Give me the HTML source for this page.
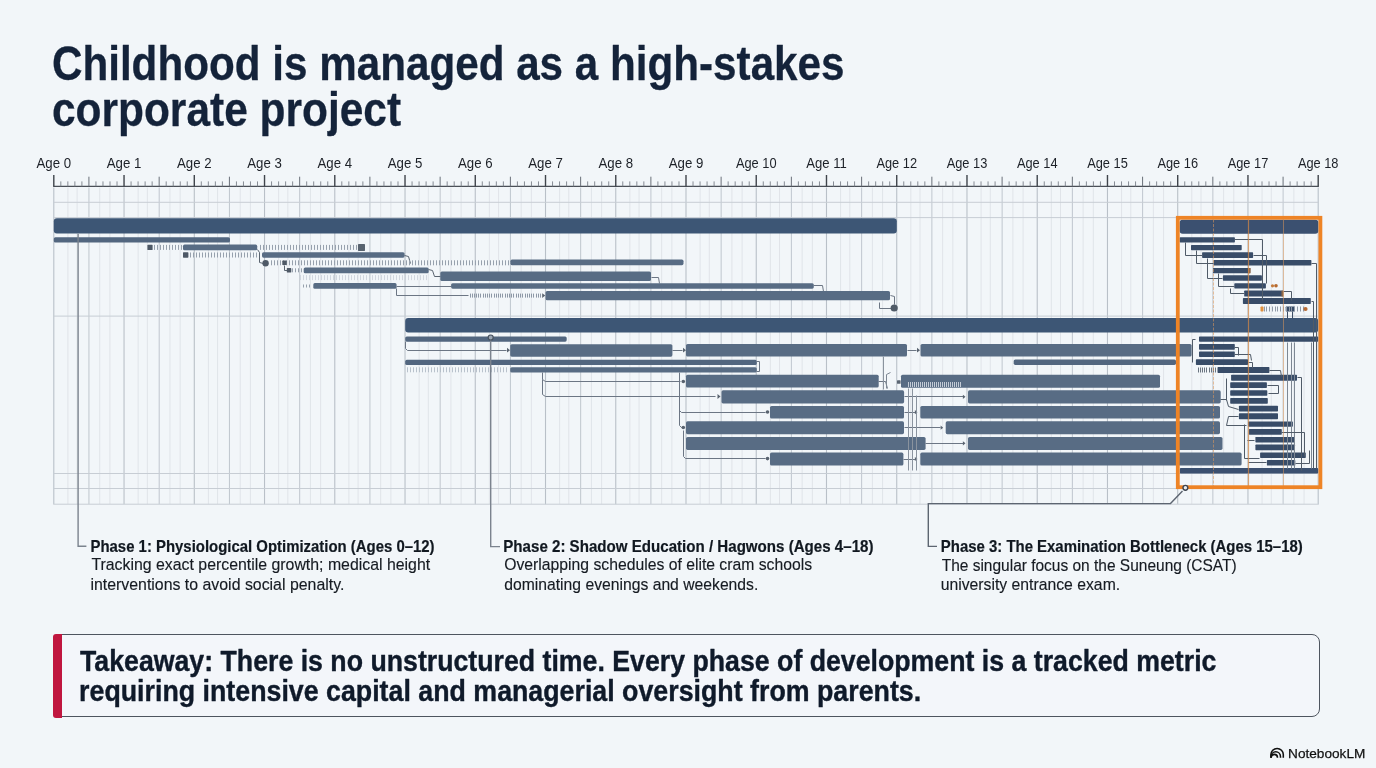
<!DOCTYPE html>
<html><head><meta charset="utf-8"><title>Childhood is managed as a high-stakes corporate project</title>
<style>
html,body{margin:0;padding:0}
body{width:1376px;height:768px;overflow:hidden;background:#f2f6f9;position:relative;font-family:"Liberation Sans",Arial,sans-serif}
svg{position:absolute;left:0;top:0}
.box{position:absolute;left:53.4px;top:634px;width:1264.6px;height:81.2px;border:1.5px solid #4e555f;border-radius:8px;background:#f3f6fa;box-sizing:content-box}
.red{position:absolute;left:53.2px;top:634px;width:8.8px;height:84.2px;background:#c0163f;border-radius:3px 0 0 3px}
</style></head><body>
<div class="box"></div>
<div class="red"></div>
<svg width="1376" height="768" viewBox="0 0 1376 768" style="will-change:transform">
<line x1="53.80" y1="187.5" x2="53.80" y2="504.2" stroke="#b9c0c8" stroke-width="1.1"/>
<line x1="67.90" y1="187.5" x2="67.90" y2="504.2" stroke="#e0e4e9" stroke-width="1.0"/>
<line x1="77.10" y1="187.5" x2="77.10" y2="504.2" stroke="#e0e4e9" stroke-width="1.0"/>
<line x1="88.95" y1="187.5" x2="88.95" y2="504.2" stroke="#bfc6ce" stroke-width="1.0"/>
<line x1="99.70" y1="187.5" x2="99.70" y2="504.2" stroke="#e0e4e9" stroke-width="1.0"/>
<line x1="109.90" y1="187.5" x2="109.90" y2="504.2" stroke="#e0e4e9" stroke-width="1.0"/>
<line x1="124.04" y1="187.5" x2="124.04" y2="504.2" stroke="#b9c0c8" stroke-width="1.1"/>
<line x1="138.14" y1="187.5" x2="138.14" y2="504.2" stroke="#e0e4e9" stroke-width="1.0"/>
<line x1="147.34" y1="187.5" x2="147.34" y2="504.2" stroke="#e0e4e9" stroke-width="1.0"/>
<line x1="159.19" y1="187.5" x2="159.19" y2="504.2" stroke="#bfc6ce" stroke-width="1.0"/>
<line x1="169.94" y1="187.5" x2="169.94" y2="504.2" stroke="#e0e4e9" stroke-width="1.0"/>
<line x1="180.14" y1="187.5" x2="180.14" y2="504.2" stroke="#e0e4e9" stroke-width="1.0"/>
<line x1="194.29" y1="187.5" x2="194.29" y2="504.2" stroke="#b9c0c8" stroke-width="1.1"/>
<line x1="208.39" y1="187.5" x2="208.39" y2="504.2" stroke="#e0e4e9" stroke-width="1.0"/>
<line x1="217.59" y1="187.5" x2="217.59" y2="504.2" stroke="#e0e4e9" stroke-width="1.0"/>
<line x1="229.44" y1="187.5" x2="229.44" y2="504.2" stroke="#bfc6ce" stroke-width="1.0"/>
<line x1="240.19" y1="187.5" x2="240.19" y2="504.2" stroke="#e0e4e9" stroke-width="1.0"/>
<line x1="250.39" y1="187.5" x2="250.39" y2="504.2" stroke="#e0e4e9" stroke-width="1.0"/>
<line x1="264.53" y1="187.5" x2="264.53" y2="504.2" stroke="#b9c0c8" stroke-width="1.1"/>
<line x1="278.63" y1="187.5" x2="278.63" y2="504.2" stroke="#e0e4e9" stroke-width="1.0"/>
<line x1="287.83" y1="187.5" x2="287.83" y2="504.2" stroke="#e0e4e9" stroke-width="1.0"/>
<line x1="299.68" y1="187.5" x2="299.68" y2="504.2" stroke="#bfc6ce" stroke-width="1.0"/>
<line x1="310.43" y1="187.5" x2="310.43" y2="504.2" stroke="#e0e4e9" stroke-width="1.0"/>
<line x1="320.63" y1="187.5" x2="320.63" y2="504.2" stroke="#e0e4e9" stroke-width="1.0"/>
<line x1="334.78" y1="187.5" x2="334.78" y2="504.2" stroke="#b9c0c8" stroke-width="1.1"/>
<line x1="348.88" y1="187.5" x2="348.88" y2="504.2" stroke="#e0e4e9" stroke-width="1.0"/>
<line x1="358.08" y1="187.5" x2="358.08" y2="504.2" stroke="#e0e4e9" stroke-width="1.0"/>
<line x1="369.93" y1="187.5" x2="369.93" y2="504.2" stroke="#bfc6ce" stroke-width="1.0"/>
<line x1="380.68" y1="187.5" x2="380.68" y2="504.2" stroke="#e0e4e9" stroke-width="1.0"/>
<line x1="390.88" y1="187.5" x2="390.88" y2="504.2" stroke="#e0e4e9" stroke-width="1.0"/>
<line x1="405.02" y1="187.5" x2="405.02" y2="504.2" stroke="#b9c0c8" stroke-width="1.1"/>
<line x1="419.12" y1="187.5" x2="419.12" y2="504.2" stroke="#e0e4e9" stroke-width="1.0"/>
<line x1="428.32" y1="187.5" x2="428.32" y2="504.2" stroke="#e0e4e9" stroke-width="1.0"/>
<line x1="440.17" y1="187.5" x2="440.17" y2="504.2" stroke="#bfc6ce" stroke-width="1.0"/>
<line x1="450.92" y1="187.5" x2="450.92" y2="504.2" stroke="#e0e4e9" stroke-width="1.0"/>
<line x1="461.12" y1="187.5" x2="461.12" y2="504.2" stroke="#e0e4e9" stroke-width="1.0"/>
<line x1="475.27" y1="187.5" x2="475.27" y2="504.2" stroke="#b9c0c8" stroke-width="1.1"/>
<line x1="489.37" y1="187.5" x2="489.37" y2="504.2" stroke="#e0e4e9" stroke-width="1.0"/>
<line x1="498.57" y1="187.5" x2="498.57" y2="504.2" stroke="#e0e4e9" stroke-width="1.0"/>
<line x1="510.42" y1="187.5" x2="510.42" y2="504.2" stroke="#bfc6ce" stroke-width="1.0"/>
<line x1="521.17" y1="187.5" x2="521.17" y2="504.2" stroke="#e0e4e9" stroke-width="1.0"/>
<line x1="531.37" y1="187.5" x2="531.37" y2="504.2" stroke="#e0e4e9" stroke-width="1.0"/>
<line x1="545.51" y1="187.5" x2="545.51" y2="504.2" stroke="#b9c0c8" stroke-width="1.1"/>
<line x1="559.61" y1="187.5" x2="559.61" y2="504.2" stroke="#e0e4e9" stroke-width="1.0"/>
<line x1="568.81" y1="187.5" x2="568.81" y2="504.2" stroke="#e0e4e9" stroke-width="1.0"/>
<line x1="580.66" y1="187.5" x2="580.66" y2="504.2" stroke="#bfc6ce" stroke-width="1.0"/>
<line x1="591.41" y1="187.5" x2="591.41" y2="504.2" stroke="#e0e4e9" stroke-width="1.0"/>
<line x1="601.61" y1="187.5" x2="601.61" y2="504.2" stroke="#e0e4e9" stroke-width="1.0"/>
<line x1="615.76" y1="187.5" x2="615.76" y2="504.2" stroke="#b9c0c8" stroke-width="1.1"/>
<line x1="629.86" y1="187.5" x2="629.86" y2="504.2" stroke="#e0e4e9" stroke-width="1.0"/>
<line x1="639.06" y1="187.5" x2="639.06" y2="504.2" stroke="#e0e4e9" stroke-width="1.0"/>
<line x1="650.91" y1="187.5" x2="650.91" y2="504.2" stroke="#bfc6ce" stroke-width="1.0"/>
<line x1="661.66" y1="187.5" x2="661.66" y2="504.2" stroke="#e0e4e9" stroke-width="1.0"/>
<line x1="671.86" y1="187.5" x2="671.86" y2="504.2" stroke="#e0e4e9" stroke-width="1.0"/>
<line x1="686.00" y1="187.5" x2="686.00" y2="504.2" stroke="#b9c0c8" stroke-width="1.1"/>
<line x1="700.10" y1="187.5" x2="700.10" y2="504.2" stroke="#e0e4e9" stroke-width="1.0"/>
<line x1="709.30" y1="187.5" x2="709.30" y2="504.2" stroke="#e0e4e9" stroke-width="1.0"/>
<line x1="721.15" y1="187.5" x2="721.15" y2="504.2" stroke="#bfc6ce" stroke-width="1.0"/>
<line x1="731.90" y1="187.5" x2="731.90" y2="504.2" stroke="#e0e4e9" stroke-width="1.0"/>
<line x1="742.10" y1="187.5" x2="742.10" y2="504.2" stroke="#e0e4e9" stroke-width="1.0"/>
<line x1="756.24" y1="187.5" x2="756.24" y2="504.2" stroke="#b9c0c8" stroke-width="1.1"/>
<line x1="770.34" y1="187.5" x2="770.34" y2="504.2" stroke="#e0e4e9" stroke-width="1.0"/>
<line x1="779.54" y1="187.5" x2="779.54" y2="504.2" stroke="#e0e4e9" stroke-width="1.0"/>
<line x1="791.39" y1="187.5" x2="791.39" y2="504.2" stroke="#bfc6ce" stroke-width="1.0"/>
<line x1="802.14" y1="187.5" x2="802.14" y2="504.2" stroke="#e0e4e9" stroke-width="1.0"/>
<line x1="812.34" y1="187.5" x2="812.34" y2="504.2" stroke="#e0e4e9" stroke-width="1.0"/>
<line x1="826.49" y1="187.5" x2="826.49" y2="504.2" stroke="#b9c0c8" stroke-width="1.1"/>
<line x1="840.59" y1="187.5" x2="840.59" y2="504.2" stroke="#e0e4e9" stroke-width="1.0"/>
<line x1="849.79" y1="187.5" x2="849.79" y2="504.2" stroke="#e0e4e9" stroke-width="1.0"/>
<line x1="861.64" y1="187.5" x2="861.64" y2="504.2" stroke="#bfc6ce" stroke-width="1.0"/>
<line x1="872.39" y1="187.5" x2="872.39" y2="504.2" stroke="#e0e4e9" stroke-width="1.0"/>
<line x1="882.59" y1="187.5" x2="882.59" y2="504.2" stroke="#e0e4e9" stroke-width="1.0"/>
<line x1="896.73" y1="187.5" x2="896.73" y2="504.2" stroke="#b9c0c8" stroke-width="1.1"/>
<line x1="910.83" y1="187.5" x2="910.83" y2="504.2" stroke="#e0e4e9" stroke-width="1.0"/>
<line x1="920.03" y1="187.5" x2="920.03" y2="504.2" stroke="#e0e4e9" stroke-width="1.0"/>
<line x1="931.88" y1="187.5" x2="931.88" y2="504.2" stroke="#bfc6ce" stroke-width="1.0"/>
<line x1="942.63" y1="187.5" x2="942.63" y2="504.2" stroke="#e0e4e9" stroke-width="1.0"/>
<line x1="952.83" y1="187.5" x2="952.83" y2="504.2" stroke="#e0e4e9" stroke-width="1.0"/>
<line x1="966.98" y1="187.5" x2="966.98" y2="504.2" stroke="#b9c0c8" stroke-width="1.1"/>
<line x1="981.08" y1="187.5" x2="981.08" y2="504.2" stroke="#e0e4e9" stroke-width="1.0"/>
<line x1="990.28" y1="187.5" x2="990.28" y2="504.2" stroke="#e0e4e9" stroke-width="1.0"/>
<line x1="1002.13" y1="187.5" x2="1002.13" y2="504.2" stroke="#bfc6ce" stroke-width="1.0"/>
<line x1="1012.88" y1="187.5" x2="1012.88" y2="504.2" stroke="#e0e4e9" stroke-width="1.0"/>
<line x1="1023.08" y1="187.5" x2="1023.08" y2="504.2" stroke="#e0e4e9" stroke-width="1.0"/>
<line x1="1037.22" y1="187.5" x2="1037.22" y2="504.2" stroke="#b9c0c8" stroke-width="1.1"/>
<line x1="1051.32" y1="187.5" x2="1051.32" y2="504.2" stroke="#e0e4e9" stroke-width="1.0"/>
<line x1="1060.52" y1="187.5" x2="1060.52" y2="504.2" stroke="#e0e4e9" stroke-width="1.0"/>
<line x1="1072.37" y1="187.5" x2="1072.37" y2="504.2" stroke="#bfc6ce" stroke-width="1.0"/>
<line x1="1083.12" y1="187.5" x2="1083.12" y2="504.2" stroke="#e0e4e9" stroke-width="1.0"/>
<line x1="1093.32" y1="187.5" x2="1093.32" y2="504.2" stroke="#e0e4e9" stroke-width="1.0"/>
<line x1="1107.47" y1="187.5" x2="1107.47" y2="504.2" stroke="#b9c0c8" stroke-width="1.1"/>
<line x1="1121.57" y1="187.5" x2="1121.57" y2="504.2" stroke="#e0e4e9" stroke-width="1.0"/>
<line x1="1130.77" y1="187.5" x2="1130.77" y2="504.2" stroke="#e0e4e9" stroke-width="1.0"/>
<line x1="1142.62" y1="187.5" x2="1142.62" y2="504.2" stroke="#bfc6ce" stroke-width="1.0"/>
<line x1="1153.37" y1="187.5" x2="1153.37" y2="504.2" stroke="#e0e4e9" stroke-width="1.0"/>
<line x1="1163.57" y1="187.5" x2="1163.57" y2="504.2" stroke="#e0e4e9" stroke-width="1.0"/>
<line x1="1177.71" y1="187.5" x2="1177.71" y2="504.2" stroke="#b9c0c8" stroke-width="1.1"/>
<line x1="1191.81" y1="187.5" x2="1191.81" y2="504.2" stroke="#e0e4e9" stroke-width="1.0"/>
<line x1="1201.01" y1="187.5" x2="1201.01" y2="504.2" stroke="#e0e4e9" stroke-width="1.0"/>
<line x1="1212.86" y1="187.5" x2="1212.86" y2="504.2" stroke="#bfc6ce" stroke-width="1.0"/>
<line x1="1223.61" y1="187.5" x2="1223.61" y2="504.2" stroke="#e0e4e9" stroke-width="1.0"/>
<line x1="1233.81" y1="187.5" x2="1233.81" y2="504.2" stroke="#e0e4e9" stroke-width="1.0"/>
<line x1="1247.96" y1="187.5" x2="1247.96" y2="504.2" stroke="#b9c0c8" stroke-width="1.1"/>
<line x1="1262.06" y1="187.5" x2="1262.06" y2="504.2" stroke="#e0e4e9" stroke-width="1.0"/>
<line x1="1271.26" y1="187.5" x2="1271.26" y2="504.2" stroke="#e0e4e9" stroke-width="1.0"/>
<line x1="1283.11" y1="187.5" x2="1283.11" y2="504.2" stroke="#bfc6ce" stroke-width="1.0"/>
<line x1="1293.86" y1="187.5" x2="1293.86" y2="504.2" stroke="#e0e4e9" stroke-width="1.0"/>
<line x1="1304.06" y1="187.5" x2="1304.06" y2="504.2" stroke="#e0e4e9" stroke-width="1.0"/>
<line x1="1318.20" y1="187.5" x2="1318.20" y2="504.2" stroke="#b9c0c8" stroke-width="1.1"/>
<line x1="53.30" y1="202.3" x2="1318.70" y2="202.3" stroke="#c7cdd4" stroke-width="1"/>
<line x1="53.30" y1="217.6" x2="1318.70" y2="217.6" stroke="#c7cdd4" stroke-width="1"/>
<line x1="53.30" y1="316.1" x2="1318.70" y2="316.1" stroke="#c7cdd4" stroke-width="1"/>
<line x1="53.30" y1="473.5" x2="1318.70" y2="473.5" stroke="#c7cdd4" stroke-width="1"/>
<line x1="53.30" y1="488.5" x2="1318.70" y2="488.5" stroke="#c7cdd4" stroke-width="1"/>
<line x1="53.30" y1="504.2" x2="1318.70" y2="504.2" stroke="#c7cdd4" stroke-width="1"/>
<line x1="53.20" y1="186.4" x2="1318.80" y2="186.4" stroke="#4a4f57" stroke-width="1.4"/>
<line x1="53.80" y1="175" x2="53.80" y2="186.4" stroke="#3f444b" stroke-width="1.4"/>
<line x1="60.82" y1="181.4" x2="60.82" y2="186.4" stroke="#7a8089" stroke-width="0.9"/>
<line x1="67.85" y1="181.4" x2="67.85" y2="186.4" stroke="#7a8089" stroke-width="0.9"/>
<line x1="74.87" y1="181.4" x2="74.87" y2="186.4" stroke="#7a8089" stroke-width="0.9"/>
<line x1="81.90" y1="181.4" x2="81.90" y2="186.4" stroke="#7a8089" stroke-width="0.9"/>
<line x1="88.92" y1="176.7" x2="88.92" y2="186.4" stroke="#6a7079" stroke-width="1"/>
<line x1="95.95" y1="181.4" x2="95.95" y2="186.4" stroke="#7a8089" stroke-width="0.9"/>
<line x1="102.97" y1="181.4" x2="102.97" y2="186.4" stroke="#7a8089" stroke-width="0.9"/>
<line x1="110.00" y1="181.4" x2="110.00" y2="186.4" stroke="#7a8089" stroke-width="0.9"/>
<line x1="117.02" y1="181.4" x2="117.02" y2="186.4" stroke="#7a8089" stroke-width="0.9"/>
<line x1="124.04" y1="175" x2="124.04" y2="186.4" stroke="#3f444b" stroke-width="1.4"/>
<line x1="131.07" y1="181.4" x2="131.07" y2="186.4" stroke="#7a8089" stroke-width="0.9"/>
<line x1="138.09" y1="181.4" x2="138.09" y2="186.4" stroke="#7a8089" stroke-width="0.9"/>
<line x1="145.12" y1="181.4" x2="145.12" y2="186.4" stroke="#7a8089" stroke-width="0.9"/>
<line x1="152.14" y1="181.4" x2="152.14" y2="186.4" stroke="#7a8089" stroke-width="0.9"/>
<line x1="159.17" y1="176.7" x2="159.17" y2="186.4" stroke="#6a7079" stroke-width="1"/>
<line x1="166.19" y1="181.4" x2="166.19" y2="186.4" stroke="#7a8089" stroke-width="0.9"/>
<line x1="173.22" y1="181.4" x2="173.22" y2="186.4" stroke="#7a8089" stroke-width="0.9"/>
<line x1="180.24" y1="181.4" x2="180.24" y2="186.4" stroke="#7a8089" stroke-width="0.9"/>
<line x1="187.26" y1="181.4" x2="187.26" y2="186.4" stroke="#7a8089" stroke-width="0.9"/>
<line x1="194.29" y1="175" x2="194.29" y2="186.4" stroke="#3f444b" stroke-width="1.4"/>
<line x1="201.31" y1="181.4" x2="201.31" y2="186.4" stroke="#7a8089" stroke-width="0.9"/>
<line x1="208.34" y1="181.4" x2="208.34" y2="186.4" stroke="#7a8089" stroke-width="0.9"/>
<line x1="215.36" y1="181.4" x2="215.36" y2="186.4" stroke="#7a8089" stroke-width="0.9"/>
<line x1="222.39" y1="181.4" x2="222.39" y2="186.4" stroke="#7a8089" stroke-width="0.9"/>
<line x1="229.41" y1="176.7" x2="229.41" y2="186.4" stroke="#6a7079" stroke-width="1"/>
<line x1="236.44" y1="181.4" x2="236.44" y2="186.4" stroke="#7a8089" stroke-width="0.9"/>
<line x1="243.46" y1="181.4" x2="243.46" y2="186.4" stroke="#7a8089" stroke-width="0.9"/>
<line x1="250.48" y1="181.4" x2="250.48" y2="186.4" stroke="#7a8089" stroke-width="0.9"/>
<line x1="257.51" y1="181.4" x2="257.51" y2="186.4" stroke="#7a8089" stroke-width="0.9"/>
<line x1="264.53" y1="175" x2="264.53" y2="186.4" stroke="#3f444b" stroke-width="1.4"/>
<line x1="271.56" y1="181.4" x2="271.56" y2="186.4" stroke="#7a8089" stroke-width="0.9"/>
<line x1="278.58" y1="181.4" x2="278.58" y2="186.4" stroke="#7a8089" stroke-width="0.9"/>
<line x1="285.61" y1="181.4" x2="285.61" y2="186.4" stroke="#7a8089" stroke-width="0.9"/>
<line x1="292.63" y1="181.4" x2="292.63" y2="186.4" stroke="#7a8089" stroke-width="0.9"/>
<line x1="299.66" y1="176.7" x2="299.66" y2="186.4" stroke="#6a7079" stroke-width="1"/>
<line x1="306.68" y1="181.4" x2="306.68" y2="186.4" stroke="#7a8089" stroke-width="0.9"/>
<line x1="313.70" y1="181.4" x2="313.70" y2="186.4" stroke="#7a8089" stroke-width="0.9"/>
<line x1="320.73" y1="181.4" x2="320.73" y2="186.4" stroke="#7a8089" stroke-width="0.9"/>
<line x1="327.75" y1="181.4" x2="327.75" y2="186.4" stroke="#7a8089" stroke-width="0.9"/>
<line x1="334.78" y1="175" x2="334.78" y2="186.4" stroke="#3f444b" stroke-width="1.4"/>
<line x1="341.80" y1="181.4" x2="341.80" y2="186.4" stroke="#7a8089" stroke-width="0.9"/>
<line x1="348.83" y1="181.4" x2="348.83" y2="186.4" stroke="#7a8089" stroke-width="0.9"/>
<line x1="355.85" y1="181.4" x2="355.85" y2="186.4" stroke="#7a8089" stroke-width="0.9"/>
<line x1="362.88" y1="181.4" x2="362.88" y2="186.4" stroke="#7a8089" stroke-width="0.9"/>
<line x1="369.90" y1="176.7" x2="369.90" y2="186.4" stroke="#6a7079" stroke-width="1"/>
<line x1="376.92" y1="181.4" x2="376.92" y2="186.4" stroke="#7a8089" stroke-width="0.9"/>
<line x1="383.95" y1="181.4" x2="383.95" y2="186.4" stroke="#7a8089" stroke-width="0.9"/>
<line x1="390.97" y1="181.4" x2="390.97" y2="186.4" stroke="#7a8089" stroke-width="0.9"/>
<line x1="398.00" y1="181.4" x2="398.00" y2="186.4" stroke="#7a8089" stroke-width="0.9"/>
<line x1="405.02" y1="175" x2="405.02" y2="186.4" stroke="#3f444b" stroke-width="1.4"/>
<line x1="412.05" y1="181.4" x2="412.05" y2="186.4" stroke="#7a8089" stroke-width="0.9"/>
<line x1="419.07" y1="181.4" x2="419.07" y2="186.4" stroke="#7a8089" stroke-width="0.9"/>
<line x1="426.10" y1="181.4" x2="426.10" y2="186.4" stroke="#7a8089" stroke-width="0.9"/>
<line x1="433.12" y1="181.4" x2="433.12" y2="186.4" stroke="#7a8089" stroke-width="0.9"/>
<line x1="440.14" y1="176.7" x2="440.14" y2="186.4" stroke="#6a7079" stroke-width="1"/>
<line x1="447.17" y1="181.4" x2="447.17" y2="186.4" stroke="#7a8089" stroke-width="0.9"/>
<line x1="454.19" y1="181.4" x2="454.19" y2="186.4" stroke="#7a8089" stroke-width="0.9"/>
<line x1="461.22" y1="181.4" x2="461.22" y2="186.4" stroke="#7a8089" stroke-width="0.9"/>
<line x1="468.24" y1="181.4" x2="468.24" y2="186.4" stroke="#7a8089" stroke-width="0.9"/>
<line x1="475.27" y1="175" x2="475.27" y2="186.4" stroke="#3f444b" stroke-width="1.4"/>
<line x1="482.29" y1="181.4" x2="482.29" y2="186.4" stroke="#7a8089" stroke-width="0.9"/>
<line x1="489.32" y1="181.4" x2="489.32" y2="186.4" stroke="#7a8089" stroke-width="0.9"/>
<line x1="496.34" y1="181.4" x2="496.34" y2="186.4" stroke="#7a8089" stroke-width="0.9"/>
<line x1="503.36" y1="181.4" x2="503.36" y2="186.4" stroke="#7a8089" stroke-width="0.9"/>
<line x1="510.39" y1="176.7" x2="510.39" y2="186.4" stroke="#6a7079" stroke-width="1"/>
<line x1="517.41" y1="181.4" x2="517.41" y2="186.4" stroke="#7a8089" stroke-width="0.9"/>
<line x1="524.44" y1="181.4" x2="524.44" y2="186.4" stroke="#7a8089" stroke-width="0.9"/>
<line x1="531.46" y1="181.4" x2="531.46" y2="186.4" stroke="#7a8089" stroke-width="0.9"/>
<line x1="538.49" y1="181.4" x2="538.49" y2="186.4" stroke="#7a8089" stroke-width="0.9"/>
<line x1="545.51" y1="175" x2="545.51" y2="186.4" stroke="#3f444b" stroke-width="1.4"/>
<line x1="552.54" y1="181.4" x2="552.54" y2="186.4" stroke="#7a8089" stroke-width="0.9"/>
<line x1="559.56" y1="181.4" x2="559.56" y2="186.4" stroke="#7a8089" stroke-width="0.9"/>
<line x1="566.58" y1="181.4" x2="566.58" y2="186.4" stroke="#7a8089" stroke-width="0.9"/>
<line x1="573.61" y1="181.4" x2="573.61" y2="186.4" stroke="#7a8089" stroke-width="0.9"/>
<line x1="580.63" y1="176.7" x2="580.63" y2="186.4" stroke="#6a7079" stroke-width="1"/>
<line x1="587.66" y1="181.4" x2="587.66" y2="186.4" stroke="#7a8089" stroke-width="0.9"/>
<line x1="594.68" y1="181.4" x2="594.68" y2="186.4" stroke="#7a8089" stroke-width="0.9"/>
<line x1="601.71" y1="181.4" x2="601.71" y2="186.4" stroke="#7a8089" stroke-width="0.9"/>
<line x1="608.73" y1="181.4" x2="608.73" y2="186.4" stroke="#7a8089" stroke-width="0.9"/>
<line x1="615.76" y1="175" x2="615.76" y2="186.4" stroke="#3f444b" stroke-width="1.4"/>
<line x1="622.78" y1="181.4" x2="622.78" y2="186.4" stroke="#7a8089" stroke-width="0.9"/>
<line x1="629.80" y1="181.4" x2="629.80" y2="186.4" stroke="#7a8089" stroke-width="0.9"/>
<line x1="636.83" y1="181.4" x2="636.83" y2="186.4" stroke="#7a8089" stroke-width="0.9"/>
<line x1="643.85" y1="181.4" x2="643.85" y2="186.4" stroke="#7a8089" stroke-width="0.9"/>
<line x1="650.88" y1="176.7" x2="650.88" y2="186.4" stroke="#6a7079" stroke-width="1"/>
<line x1="657.90" y1="181.4" x2="657.90" y2="186.4" stroke="#7a8089" stroke-width="0.9"/>
<line x1="664.93" y1="181.4" x2="664.93" y2="186.4" stroke="#7a8089" stroke-width="0.9"/>
<line x1="671.95" y1="181.4" x2="671.95" y2="186.4" stroke="#7a8089" stroke-width="0.9"/>
<line x1="678.98" y1="181.4" x2="678.98" y2="186.4" stroke="#7a8089" stroke-width="0.9"/>
<line x1="686.00" y1="175" x2="686.00" y2="186.4" stroke="#3f444b" stroke-width="1.4"/>
<line x1="693.02" y1="181.4" x2="693.02" y2="186.4" stroke="#7a8089" stroke-width="0.9"/>
<line x1="700.05" y1="181.4" x2="700.05" y2="186.4" stroke="#7a8089" stroke-width="0.9"/>
<line x1="707.07" y1="181.4" x2="707.07" y2="186.4" stroke="#7a8089" stroke-width="0.9"/>
<line x1="714.10" y1="181.4" x2="714.10" y2="186.4" stroke="#7a8089" stroke-width="0.9"/>
<line x1="721.12" y1="176.7" x2="721.12" y2="186.4" stroke="#6a7079" stroke-width="1"/>
<line x1="728.15" y1="181.4" x2="728.15" y2="186.4" stroke="#7a8089" stroke-width="0.9"/>
<line x1="735.17" y1="181.4" x2="735.17" y2="186.4" stroke="#7a8089" stroke-width="0.9"/>
<line x1="742.20" y1="181.4" x2="742.20" y2="186.4" stroke="#7a8089" stroke-width="0.9"/>
<line x1="749.22" y1="181.4" x2="749.22" y2="186.4" stroke="#7a8089" stroke-width="0.9"/>
<line x1="756.24" y1="175" x2="756.24" y2="186.4" stroke="#3f444b" stroke-width="1.4"/>
<line x1="763.27" y1="181.4" x2="763.27" y2="186.4" stroke="#7a8089" stroke-width="0.9"/>
<line x1="770.29" y1="181.4" x2="770.29" y2="186.4" stroke="#7a8089" stroke-width="0.9"/>
<line x1="777.32" y1="181.4" x2="777.32" y2="186.4" stroke="#7a8089" stroke-width="0.9"/>
<line x1="784.34" y1="181.4" x2="784.34" y2="186.4" stroke="#7a8089" stroke-width="0.9"/>
<line x1="791.37" y1="176.7" x2="791.37" y2="186.4" stroke="#6a7079" stroke-width="1"/>
<line x1="798.39" y1="181.4" x2="798.39" y2="186.4" stroke="#7a8089" stroke-width="0.9"/>
<line x1="805.42" y1="181.4" x2="805.42" y2="186.4" stroke="#7a8089" stroke-width="0.9"/>
<line x1="812.44" y1="181.4" x2="812.44" y2="186.4" stroke="#7a8089" stroke-width="0.9"/>
<line x1="819.46" y1="181.4" x2="819.46" y2="186.4" stroke="#7a8089" stroke-width="0.9"/>
<line x1="826.49" y1="175" x2="826.49" y2="186.4" stroke="#3f444b" stroke-width="1.4"/>
<line x1="833.51" y1="181.4" x2="833.51" y2="186.4" stroke="#7a8089" stroke-width="0.9"/>
<line x1="840.54" y1="181.4" x2="840.54" y2="186.4" stroke="#7a8089" stroke-width="0.9"/>
<line x1="847.56" y1="181.4" x2="847.56" y2="186.4" stroke="#7a8089" stroke-width="0.9"/>
<line x1="854.59" y1="181.4" x2="854.59" y2="186.4" stroke="#7a8089" stroke-width="0.9"/>
<line x1="861.61" y1="176.7" x2="861.61" y2="186.4" stroke="#6a7079" stroke-width="1"/>
<line x1="868.64" y1="181.4" x2="868.64" y2="186.4" stroke="#7a8089" stroke-width="0.9"/>
<line x1="875.66" y1="181.4" x2="875.66" y2="186.4" stroke="#7a8089" stroke-width="0.9"/>
<line x1="882.68" y1="181.4" x2="882.68" y2="186.4" stroke="#7a8089" stroke-width="0.9"/>
<line x1="889.71" y1="181.4" x2="889.71" y2="186.4" stroke="#7a8089" stroke-width="0.9"/>
<line x1="896.73" y1="175" x2="896.73" y2="186.4" stroke="#3f444b" stroke-width="1.4"/>
<line x1="903.76" y1="181.4" x2="903.76" y2="186.4" stroke="#7a8089" stroke-width="0.9"/>
<line x1="910.78" y1="181.4" x2="910.78" y2="186.4" stroke="#7a8089" stroke-width="0.9"/>
<line x1="917.81" y1="181.4" x2="917.81" y2="186.4" stroke="#7a8089" stroke-width="0.9"/>
<line x1="924.83" y1="181.4" x2="924.83" y2="186.4" stroke="#7a8089" stroke-width="0.9"/>
<line x1="931.86" y1="176.7" x2="931.86" y2="186.4" stroke="#6a7079" stroke-width="1"/>
<line x1="938.88" y1="181.4" x2="938.88" y2="186.4" stroke="#7a8089" stroke-width="0.9"/>
<line x1="945.90" y1="181.4" x2="945.90" y2="186.4" stroke="#7a8089" stroke-width="0.9"/>
<line x1="952.93" y1="181.4" x2="952.93" y2="186.4" stroke="#7a8089" stroke-width="0.9"/>
<line x1="959.95" y1="181.4" x2="959.95" y2="186.4" stroke="#7a8089" stroke-width="0.9"/>
<line x1="966.98" y1="175" x2="966.98" y2="186.4" stroke="#3f444b" stroke-width="1.4"/>
<line x1="974.00" y1="181.4" x2="974.00" y2="186.4" stroke="#7a8089" stroke-width="0.9"/>
<line x1="981.03" y1="181.4" x2="981.03" y2="186.4" stroke="#7a8089" stroke-width="0.9"/>
<line x1="988.05" y1="181.4" x2="988.05" y2="186.4" stroke="#7a8089" stroke-width="0.9"/>
<line x1="995.08" y1="181.4" x2="995.08" y2="186.4" stroke="#7a8089" stroke-width="0.9"/>
<line x1="1002.10" y1="176.7" x2="1002.10" y2="186.4" stroke="#6a7079" stroke-width="1"/>
<line x1="1009.12" y1="181.4" x2="1009.12" y2="186.4" stroke="#7a8089" stroke-width="0.9"/>
<line x1="1016.15" y1="181.4" x2="1016.15" y2="186.4" stroke="#7a8089" stroke-width="0.9"/>
<line x1="1023.17" y1="181.4" x2="1023.17" y2="186.4" stroke="#7a8089" stroke-width="0.9"/>
<line x1="1030.20" y1="181.4" x2="1030.20" y2="186.4" stroke="#7a8089" stroke-width="0.9"/>
<line x1="1037.22" y1="175" x2="1037.22" y2="186.4" stroke="#3f444b" stroke-width="1.4"/>
<line x1="1044.25" y1="181.4" x2="1044.25" y2="186.4" stroke="#7a8089" stroke-width="0.9"/>
<line x1="1051.27" y1="181.4" x2="1051.27" y2="186.4" stroke="#7a8089" stroke-width="0.9"/>
<line x1="1058.30" y1="181.4" x2="1058.30" y2="186.4" stroke="#7a8089" stroke-width="0.9"/>
<line x1="1065.32" y1="181.4" x2="1065.32" y2="186.4" stroke="#7a8089" stroke-width="0.9"/>
<line x1="1072.34" y1="176.7" x2="1072.34" y2="186.4" stroke="#6a7079" stroke-width="1"/>
<line x1="1079.37" y1="181.4" x2="1079.37" y2="186.4" stroke="#7a8089" stroke-width="0.9"/>
<line x1="1086.39" y1="181.4" x2="1086.39" y2="186.4" stroke="#7a8089" stroke-width="0.9"/>
<line x1="1093.42" y1="181.4" x2="1093.42" y2="186.4" stroke="#7a8089" stroke-width="0.9"/>
<line x1="1100.44" y1="181.4" x2="1100.44" y2="186.4" stroke="#7a8089" stroke-width="0.9"/>
<line x1="1107.47" y1="175" x2="1107.47" y2="186.4" stroke="#3f444b" stroke-width="1.4"/>
<line x1="1114.49" y1="181.4" x2="1114.49" y2="186.4" stroke="#7a8089" stroke-width="0.9"/>
<line x1="1121.52" y1="181.4" x2="1121.52" y2="186.4" stroke="#7a8089" stroke-width="0.9"/>
<line x1="1128.54" y1="181.4" x2="1128.54" y2="186.4" stroke="#7a8089" stroke-width="0.9"/>
<line x1="1135.56" y1="181.4" x2="1135.56" y2="186.4" stroke="#7a8089" stroke-width="0.9"/>
<line x1="1142.59" y1="176.7" x2="1142.59" y2="186.4" stroke="#6a7079" stroke-width="1"/>
<line x1="1149.61" y1="181.4" x2="1149.61" y2="186.4" stroke="#7a8089" stroke-width="0.9"/>
<line x1="1156.64" y1="181.4" x2="1156.64" y2="186.4" stroke="#7a8089" stroke-width="0.9"/>
<line x1="1163.66" y1="181.4" x2="1163.66" y2="186.4" stroke="#7a8089" stroke-width="0.9"/>
<line x1="1170.69" y1="181.4" x2="1170.69" y2="186.4" stroke="#7a8089" stroke-width="0.9"/>
<line x1="1177.71" y1="175" x2="1177.71" y2="186.4" stroke="#3f444b" stroke-width="1.4"/>
<line x1="1184.74" y1="181.4" x2="1184.74" y2="186.4" stroke="#7a8089" stroke-width="0.9"/>
<line x1="1191.76" y1="181.4" x2="1191.76" y2="186.4" stroke="#7a8089" stroke-width="0.9"/>
<line x1="1198.78" y1="181.4" x2="1198.78" y2="186.4" stroke="#7a8089" stroke-width="0.9"/>
<line x1="1205.81" y1="181.4" x2="1205.81" y2="186.4" stroke="#7a8089" stroke-width="0.9"/>
<line x1="1212.83" y1="176.7" x2="1212.83" y2="186.4" stroke="#6a7079" stroke-width="1"/>
<line x1="1219.86" y1="181.4" x2="1219.86" y2="186.4" stroke="#7a8089" stroke-width="0.9"/>
<line x1="1226.88" y1="181.4" x2="1226.88" y2="186.4" stroke="#7a8089" stroke-width="0.9"/>
<line x1="1233.91" y1="181.4" x2="1233.91" y2="186.4" stroke="#7a8089" stroke-width="0.9"/>
<line x1="1240.93" y1="181.4" x2="1240.93" y2="186.4" stroke="#7a8089" stroke-width="0.9"/>
<line x1="1247.96" y1="175" x2="1247.96" y2="186.4" stroke="#3f444b" stroke-width="1.4"/>
<line x1="1254.98" y1="181.4" x2="1254.98" y2="186.4" stroke="#7a8089" stroke-width="0.9"/>
<line x1="1262.00" y1="181.4" x2="1262.00" y2="186.4" stroke="#7a8089" stroke-width="0.9"/>
<line x1="1269.03" y1="181.4" x2="1269.03" y2="186.4" stroke="#7a8089" stroke-width="0.9"/>
<line x1="1276.05" y1="181.4" x2="1276.05" y2="186.4" stroke="#7a8089" stroke-width="0.9"/>
<line x1="1283.08" y1="176.7" x2="1283.08" y2="186.4" stroke="#6a7079" stroke-width="1"/>
<line x1="1290.10" y1="181.4" x2="1290.10" y2="186.4" stroke="#7a8089" stroke-width="0.9"/>
<line x1="1297.13" y1="181.4" x2="1297.13" y2="186.4" stroke="#7a8089" stroke-width="0.9"/>
<line x1="1304.15" y1="181.4" x2="1304.15" y2="186.4" stroke="#7a8089" stroke-width="0.9"/>
<line x1="1311.18" y1="181.4" x2="1311.18" y2="186.4" stroke="#7a8089" stroke-width="0.9"/>
<line x1="1318.20" y1="175" x2="1318.20" y2="186.4" stroke="#3f444b" stroke-width="1.4"/>
<rect x="53.8" y="218.2" width="843.0" height="15.4" rx="3" fill="#3d5675"/>
<rect x="53.8" y="237.2" width="176.2" height="5.4" rx="1.6" fill="#52667f"/>
<rect x="147.4" y="244.8" width="5.2" height="5.2" rx="0.6" fill="#4e5966"/>
<path d="M154.5 244.9v5M157.5 244.9v5M160.5 244.9v5M163.5 244.9v5M166.5 244.9v5M169.5 244.9v5M172.5 244.9v5M175.5 244.9v5M178.5 244.9v5M181.5 244.9v5" stroke="#97a1ad" stroke-width="1" opacity="1.0" fill="none"/>
<rect x="183.0" y="244.6" width="74.2" height="5.7" rx="1.6" fill="#586c84"/>
<path d="M260.5 244.9v5M263.5 244.9v5M266.5 244.9v5M269.5 244.9v5M272.5 244.9v5M275.5 244.9v5M278.5 244.9v5M281.5 244.9v5M284.5 244.9v5M287.5 244.9v5M290.5 244.9v5M293.5 244.9v5M296.5 244.9v5M299.5 244.9v5M302.5 244.9v5M305.5 244.9v5M308.5 244.9v5M311.5 244.9v5M314.5 244.9v5M317.5 244.9v5M320.5 244.9v5M323.5 244.9v5M326.5 244.9v5M329.5 244.9v5M332.5 244.9v5M335.5 244.9v5M338.5 244.9v5M341.5 244.9v5M344.5 244.9v5M347.5 244.9v5M350.5 244.9v5M353.5 244.9v5M356.5 244.9v5" stroke="#97a1ad" stroke-width="1" opacity="1.0" fill="none"/>
<rect x="358.0" y="243.9" width="7" height="7" rx="0.6" fill="#58636f"/>
<rect x="183.0" y="252.3" width="5.4" height="5.4" rx="0.6" fill="#4e5966"/>
<path d="M190.5 252.5v5M193.5 252.5v5M196.5 252.5v5M199.5 252.5v5M202.5 252.5v5M205.5 252.5v5M208.5 252.5v5M211.5 252.5v5M214.5 252.5v5M217.5 252.5v5M220.5 252.5v5M223.5 252.5v5M226.5 252.5v5M229.5 252.5v5M232.5 252.5v5M235.5 252.5v5M238.5 252.5v5M241.5 252.5v5M244.5 252.5v5M247.5 252.5v5M250.5 252.5v5M253.5 252.5v5M256.5 252.5v5M259.5 252.5v5" stroke="#97a1ad" stroke-width="1" opacity="1.0" fill="none"/>
<rect x="262.0" y="252.2" width="142.6" height="5.5" rx="1.6" fill="#586c84"/>
<path d="M257.5 249.5 L259.5 252.5 L259.5 262.5 L263.5 263.5" stroke="#5a6470" stroke-width="1.0" fill="none" opacity="1.0"/>
<path d="M404.5 255.5 L408.5 256.5 L410.5 263.5" stroke="#5a6470" stroke-width="1.0" fill="none" opacity="1.0"/>
<circle cx="265.6" cy="263.2" r="3.2" fill="#4e5966"/>
<path d="M271.5 260.3v5M274.5 260.3v5M277.5 260.3v5M280.5 260.3v5M283.5 260.3v5M286.5 260.3v5M289.5 260.3v5M292.5 260.3v5M295.5 260.3v5M298.5 260.3v5M301.5 260.3v5M304.5 260.3v5M307.5 260.3v5M310.5 260.3v5M313.5 260.3v5M316.5 260.3v5M319.5 260.3v5M322.5 260.3v5M325.5 260.3v5M328.5 260.3v5M331.5 260.3v5M334.5 260.3v5M337.5 260.3v5M340.5 260.3v5M343.5 260.3v5M346.5 260.3v5M349.5 260.3v5M352.5 260.3v5M355.5 260.3v5M358.5 260.3v5M361.5 260.3v5M364.5 260.3v5M367.5 260.3v5M370.5 260.3v5M373.5 260.3v5M376.5 260.3v5M379.5 260.3v5M382.5 260.3v5M385.5 260.3v5M388.5 260.3v5M391.5 260.3v5M394.5 260.3v5M397.5 260.3v5M400.5 260.3v5M403.5 260.3v5M406.5 260.3v5M409.5 260.3v5M412.5 260.3v5M415.5 260.3v5M418.5 260.3v5M421.5 260.3v5M424.5 260.3v5M427.5 260.3v5M430.5 260.3v5M433.5 260.3v5M436.5 260.3v5M439.5 260.3v5M442.5 260.3v5M445.5 260.3v5M448.5 260.3v5M451.5 260.3v5M454.5 260.3v5M457.5 260.3v5M460.5 260.3v5M463.5 260.3v5M466.5 260.3v5M469.5 260.3v5M472.5 260.3v5M475.5 260.3v5M478.5 260.3v5M481.5 260.3v5M484.5 260.3v5M487.5 260.3v5M490.5 260.3v5M493.5 260.3v5M496.5 260.3v5M499.5 260.3v5M502.5 260.3v5M505.5 260.3v5M508.5 260.3v5" stroke="#97a1ad" stroke-width="1" opacity="1.0" fill="none"/>
<rect x="282.3" y="260.6" width="4.4" height="4.4" rx="0.6" fill="#4e5966"/>
<rect x="510.4" y="259.6" width="173.1" height="5.6" rx="1.6" fill="#586c84"/>
<path d="M284.5 265.5 L284.5 270.5 L287.5 270.5" stroke="#5a6470" stroke-width="1.0" fill="none" opacity="1.0"/>
<rect x="286.8" y="268.1" width="4.5" height="4.5" rx="0.6" fill="#4e5966"/>
<path d="M292.5 268.3v4M295.5 268.3v4M298.5 268.3v4M301.5 268.3v4" stroke="#97a1ad" stroke-width="1" opacity="1.0" fill="none"/>
<rect x="303.7" y="267.4" width="125.0" height="5.9" rx="1.6" fill="#586c84"/>
<path d="M428.5 269.5 L432.5 270.5 L434.5 276.5 L440.5 276.5" stroke="#5a6470" stroke-width="1.0" fill="none" opacity="1.0"/>
<rect x="440.3" y="271.4" width="210.7" height="9.6" rx="1.6" fill="#586c84"/>
<path d="M651.5 277.5 L658.5 277.5 L659.5 283.5" stroke="#6c7684" stroke-width="1.0" fill="none" opacity="1.0"/>
<path d="M300.5 275.1v5M303.5 275.1v5M306.5 275.1v5M309.5 275.1v5M312.5 275.1v5M315.5 275.1v5M318.5 275.1v5M321.5 275.1v5M324.5 275.1v5M327.5 275.1v5M330.5 275.1v5M333.5 275.1v5M336.5 275.1v5M339.5 275.1v5M342.5 275.1v5M345.5 275.1v5M348.5 275.1v5M351.5 275.1v5M354.5 275.1v5M357.5 275.1v5M360.5 275.1v5M363.5 275.1v5M366.5 275.1v5M369.5 275.1v5M372.5 275.1v5M375.5 275.1v5M378.5 275.1v5M381.5 275.1v5M384.5 275.1v5M387.5 275.1v5M390.5 275.1v5M393.5 275.1v5M396.5 275.1v5M399.5 275.1v5M402.5 275.1v5M405.5 275.1v5M408.5 275.1v5M411.5 275.1v5M414.5 275.1v5M417.5 275.1v5M420.5 275.1v5M423.5 275.1v5M426.5 275.1v5" stroke="#c9d0d8" stroke-width="1" opacity="0.8" fill="none"/>
<path d="M303.5 284.5v3M306.5 284.5v3M309.5 284.5v3" stroke="#97a1ad" stroke-width="1" opacity="1.0" fill="none"/>
<rect x="313.3" y="283.1" width="83.3" height="5.7" rx="1.6" fill="#586c84"/>
<path d="M396.5 286.5 L451.5 286.5" stroke="#6c7684" stroke-width="1.0" fill="none" opacity="1.0"/>
<rect x="451.1" y="283.2" width="362.7" height="5.5" rx="1.6" fill="#586c84"/>
<path d="M813.5 285.5 L822.5 285.5 L823.5 291.5" stroke="#6c7684" stroke-width="1.0" fill="none" opacity="1.0"/>
<path d="M396.5 288.5 L396.5 295.5 L468.5 295.5" stroke="#6c7684" stroke-width="1.0" fill="none" opacity="1.0"/>
<path d="M470.5 293.6v4M472.5 293.6v4M474.5 293.6v4M476.5 293.6v4M478.5 293.6v4M480.5 293.6v4M483.5 293.6v4M485.5 293.6v4M487.5 293.6v4M489.5 293.6v4M491.5 293.6v4M494.5 293.6v4M496.5 293.6v4M498.5 293.6v4M500.5 293.6v4M502.5 293.6v4M505.5 293.6v4M507.5 293.6v4M509.5 293.6v4M511.5 293.6v4M513.5 293.6v4M516.5 293.6v4M518.5 293.6v4M520.5 293.6v4M522.5 293.6v4M525.5 293.6v4M527.5 293.6v4M529.5 293.6v4M531.5 293.6v4M533.5 293.6v4M536.5 293.6v4M538.5 293.6v4M540.5 293.6v4" stroke="#8d98a6" stroke-width="1" opacity="1.0" fill="none"/>
<path d="M542.2 293.2 L545.2 295.6 L542.2 298.0Z" fill="#59636f"/>
<rect x="545.6" y="291.0" width="344.4" height="9.3" rx="1.6" fill="#586c84"/>
<path d="M890.5 295.5 L894.5 296.5 L894.5 304.5" stroke="#6c7684" stroke-width="1.0" fill="none" opacity="1.0"/>
<path d="M879.5 302.5 L879.5 308.5 L891.5 308.5" stroke="#6c7684" stroke-width="1.0" fill="none" opacity="1.0"/>
<circle cx="894.2" cy="308.0" r="3.6" fill="#4f5a67"/>
<path d="M78.1 233.7 L78.1 546.3 L86.4 546.3" stroke="#7b838e" stroke-width="1.4" fill="none" opacity="1.0"/>
<rect x="405.2" y="318.0" width="913.0" height="14.5" rx="3" fill="#3d5675"/>
<rect x="405.2" y="336.4" width="161.5" height="5.3" rx="1.6" fill="#52667f"/>
<path d="M405.5 341.5 L405.5 348.5 L407.5 350.5 L506.5 350.5" stroke="#6c7684" stroke-width="1.0" fill="none" opacity="1.0"/>
<path d="M507.0 347.8 L510.0 350.2 L507.0 352.6Z" fill="#59636f"/>
<rect x="510.2" y="344.2" width="162.2" height="12.5" rx="1.6" fill="#586c84"/>
<path d="M672.5 350.5 L682.5 350.5" stroke="#6c7684" stroke-width="1.0" fill="none" opacity="1.0"/>
<path d="M683.0 347.8 L686.0 350.2 L683.0 352.6Z" fill="#59636f"/>
<rect x="686.0" y="343.9" width="221.0" height="12.6" rx="1.6" fill="#586c84"/>
<path d="M907.5 350.5 L916.5 350.5" stroke="#6c7684" stroke-width="1.0" fill="none" opacity="1.0"/>
<path d="M917.0 347.8 L920.0 350.2 L917.0 352.6Z" fill="#59636f"/>
<rect x="920.5" y="343.9" width="271.1" height="12.6" rx="1.6" fill="#586c84"/>
<rect x="405.2" y="359.8" width="351.6" height="5.2" rx="1.6" fill="#52667f"/>
<path d="M407.5 367.3v5M410.5 367.3v5M413.5 367.3v5M416.5 367.3v5M419.5 367.3v5M422.5 367.3v5M425.5 367.3v5M428.5 367.3v5M431.5 367.3v5M434.5 367.3v5M437.5 367.3v5M440.5 367.3v5M443.5 367.3v5M446.5 367.3v5M449.5 367.3v5M452.5 367.3v5M455.5 367.3v5M458.5 367.3v5M461.5 367.3v5M464.5 367.3v5M467.5 367.3v5M470.5 367.3v5M473.5 367.3v5M476.5 367.3v5M479.5 367.3v5M482.5 367.3v5M485.5 367.3v5M488.5 367.3v5M491.5 367.3v5M494.5 367.3v5M497.5 367.3v5M500.5 367.3v5M503.5 367.3v5M506.5 367.3v5" stroke="#b3bcc7" stroke-width="1" opacity="0.9" fill="none"/>
<rect x="510.2" y="367.2" width="246.6" height="5.4" rx="1.6" fill="#586c84"/>
<path d="M756.5 361.5 L759.5 361.5 L759.5 371.5 L756.5 371.5" stroke="#6c7684" stroke-width="1.0" fill="none" opacity="1.0"/>
<rect x="1013.7" y="359.4" width="162.3" height="5.5" rx="1.6" fill="#52667f"/>
<path d="M542.5 372.5 L542.5 379.5 L545.5 381.5 L680.5 381.5" stroke="#6c7684" stroke-width="1.0" fill="none" opacity="1.0"/>
<path d="M542.5 379.5 L542.5 394.5 L545.5 396.5 L715.5 396.5" stroke="#6c7684" stroke-width="1.0" fill="none" opacity="1.0"/>
<path d="M717.5 394.1 L720.5 396.5 L717.5 398.9Z" fill="#59636f"/>
<path d="M679.5 372.5 L679.5 425.5 L681.5 427.5 L684.5 427.5" stroke="#6c7684" stroke-width="1.0" fill="none" opacity="1.0"/>
<path d="M679.5 410.5 L681.5 412.5 L765.5 412.5" stroke="#6c7684" stroke-width="1.0" fill="none" opacity="1.0"/>
<circle cx="767.5" cy="412.0" r="1.8" fill="#59636f"/>
<path d="M683.5 430.5 L683.5 456.5 L685.5 458.5 L765.5 458.5" stroke="#6c7684" stroke-width="1.0" fill="none" opacity="1.0"/>
<circle cx="767.5" cy="458.6" r="1.8" fill="#59636f"/>
<circle cx="683.3" cy="381.5" r="1.8" fill="#59636f"/>
<circle cx="683.3" cy="427.5" r="1.8" fill="#59636f"/>
<rect x="686.0" y="374.7" width="192.7" height="12.9" rx="1.6" fill="#586c84"/>
<path d="M878.5 381.5 L885.5 381.5 L887.5 388.5" stroke="#6c7684" stroke-width="1.0" fill="none" opacity="1.0"/>
<rect x="901.0" y="374.7" width="259.0" height="13.1" rx="1.6" fill="#586c84"/>
<path d="M908.5 382.0v5M910.5 382.0v5M912.5 382.0v5M914.5 382.0v5M916.5 382.0v5M918.5 382.0v5M920.5 382.0v5M922.5 382.0v5M924.5 382.0v5M926.5 382.0v5M928.5 382.0v5M930.5 382.0v5M932.5 382.0v5M934.5 382.0v5M936.5 382.0v5M938.5 382.0v5M940.5 382.0v5M942.5 382.0v5M944.5 382.0v5M946.5 382.0v5M948.5 382.0v5M950.5 382.0v5M952.5 382.0v5M954.5 382.0v5M956.5 382.0v5M958.5 382.0v5M960.5 382.0v5" stroke="#c3cbd6" stroke-width="1" opacity="1.0" fill="none"/>
<rect x="721.5" y="390.3" width="182.6" height="13.1" rx="1.6" fill="#586c84"/>
<rect x="968.0" y="390.3" width="252.7" height="13.1" rx="1.6" fill="#586c84"/>
<rect x="770.0" y="405.9" width="134.0" height="12.7" rx="1.6" fill="#586c84"/>
<rect x="920.3" y="405.9" width="299.7" height="12.7" rx="1.6" fill="#586c84"/>
<rect x="686.0" y="421.3" width="218.0" height="12.9" rx="1.6" fill="#586c84"/>
<rect x="945.7" y="421.3" width="274.3" height="12.9" rx="1.6" fill="#586c84"/>
<rect x="686.0" y="436.9" width="239.6" height="13.0" rx="1.6" fill="#586c84"/>
<rect x="968.0" y="436.9" width="254.5" height="13.0" rx="1.6" fill="#586c84"/>
<rect x="770.0" y="452.6" width="133.4" height="12.9" rx="1.6" fill="#586c84"/>
<rect x="920.3" y="452.6" width="321.3" height="13.0" rx="1.6" fill="#586c84"/>
<path d="M904.5 396.5 L963.5 396.5" stroke="#6c7684" stroke-width="1.0" fill="none" opacity="1.0"/>
<path d="M962.9 394.7 L965.5 396.8 L962.9 398.9Z" fill="#59636f"/>
<path d="M904.5 412.5 L915.5 412.5" stroke="#6c7684" stroke-width="1.0" fill="none" opacity="1.0"/>
<path d="M914.9 410.1 L917.5 412.2 L914.9 414.3Z" fill="#59636f"/>
<path d="M904.5 427.5 L940.5 427.5" stroke="#6c7684" stroke-width="1.0" fill="none" opacity="1.0"/>
<path d="M940.6 425.6 L943.2 427.7 L940.6 429.8Z" fill="#59636f"/>
<path d="M925.5 443.5 L963.5 443.5" stroke="#6c7684" stroke-width="1.0" fill="none" opacity="1.0"/>
<path d="M962.9 441.2 L965.5 443.3 L962.9 445.4Z" fill="#59636f"/>
<path d="M903.5 459.5 L915.5 459.5" stroke="#6c7684" stroke-width="1.0" fill="none" opacity="1.0"/>
<path d="M914.9 456.9 L917.5 459.0 L914.9 461.1Z" fill="#59636f"/>
<path d="M883.5 356.5 L883.5 389.5" stroke="#8a939e" stroke-width="1.0" fill="none" opacity="1.0"/>
<path d="M886.5 388.5 L886.5 374.5 L890.5 372.5" stroke="#7d8793" stroke-width="1.0" fill="none" opacity="1.0"/>
<rect x="897.0" y="380.2" width="3.6" height="3.6" rx="0.6" fill="#5b6673"/>
<path d="M908.5 388.5 L908.5 470.5" stroke="#8a939e" stroke-width="1.0" fill="none" opacity="1.0"/>
<path d="M912.5 388.5 L912.5 470.5" stroke="#8a939e" stroke-width="1.0" fill="none" opacity="1.0"/>
<path d="M916.5 395.5 L916.5 470.5" stroke="#8a939e" stroke-width="1.0" fill="none" opacity="1.0"/>
<path d="M490.7 337.2 L490.7 546.6 L500.0 546.6" stroke="#7b838e" stroke-width="1.4" fill="none" opacity="1.0"/>
<circle cx="490.7" cy="337.5" r="2.5" fill="#9aa5b3" stroke="#46515e" stroke-width="1.2"/>
<rect x="1179.6" y="219.8" width="138.7" height="13.9" rx="3" fill="#3b5070"/>
<rect x="1179.6" y="237.2" width="55.3" height="5.2" rx="0.7" fill="#384c68"/>
<rect x="1191.0" y="244.9" width="50.7" height="5.3" rx="0.7" fill="#384c68"/>
<rect x="1202.1" y="252.3" width="51.0" height="5.7" rx="0.7" fill="#384c68"/>
<rect x="1213.6" y="260.1" width="97.8" height="5.5" rx="0.7" fill="#384c68"/>
<rect x="1213.0" y="267.9" width="37.4" height="5.4" rx="0.7" fill="#384c68"/>
<rect x="1222.9" y="275.3" width="39.0" height="5.4" rx="0.7" fill="#384c68"/>
<rect x="1234.3" y="283.2" width="31.6" height="5.3" rx="0.7" fill="#384c68"/>
<rect x="1244.2" y="290.6" width="39.0" height="6.0" rx="0.7" fill="#384c68"/>
<rect x="1242.9" y="298.0" width="67.9" height="6.0" rx="0.7" fill="#384c68"/>
<rect x="1285.7" y="306.5" width="9.1" height="5.0" rx="0.8" fill="#384c68"/>
<path d="M1264.5 306.5v5M1266.5 306.5v5M1269.5 306.5v5M1272.5 306.5v5M1275.5 306.5v5M1277.5 306.5v5M1280.5 306.5v5M1283.5 306.5v5M1286.5 306.5v5M1289.5 306.5v5M1291.5 306.5v5M1294.5 306.5v5M1297.5 306.5v5M1300.5 306.5v5M1303.5 306.5v5" stroke="#8f99a6" stroke-width="1" opacity="1.0" fill="none"/>
<rect x="1260.5" y="306.5" width="3" height="5" rx="0.8" fill="#e0913f"/>
<circle cx="1305.5" cy="309" r="2.1" fill="#b86a33"/>
<circle cx="1272.5" cy="285.8" r="1.6" fill="#c57a3a"/><circle cx="1276" cy="285.8" r="1.8" fill="#b5692f"/>
<rect x="1248" y="268" width="2.6" height="5.3" fill="#a8703f" opacity="0.8"/>
<rect x="1281.5" y="290.6" width="2" height="6" fill="#a8703f" opacity="0.8"/>
<path d="M1287.5 311.5 L1287.5 318.5" stroke="#3c4d66" stroke-width="1.0" fill="none" opacity="1.0"/>
<path d="M1292.5 311.5 L1292.5 318.5" stroke="#3c4d66" stroke-width="1.0" fill="none" opacity="1.0"/>
<rect x="1199.0" y="336.4" width="119.2" height="5.3" rx="0.7" fill="#384c68"/>
<rect x="1199.0" y="344.0" width="35.8" height="5.8" rx="0.7" fill="#384c68"/>
<rect x="1199.0" y="351.4" width="35.8" height="5.5" rx="0.7" fill="#384c68"/>
<rect x="1195.9" y="359.3" width="52.1" height="5.7" rx="0.7" fill="#384c68"/>
<rect x="1217.5" y="367.0" width="51.9" height="5.9" rx="0.7" fill="#384c68"/>
<rect x="1231.1" y="374.8" width="65.9" height="5.9" rx="0.7" fill="#384c68"/>
<rect x="1230.2" y="382.3" width="36.7" height="5.7" rx="0.7" fill="#384c68"/>
<rect x="1230.2" y="390.2" width="37.1" height="5.5" rx="0.7" fill="#384c68"/>
<rect x="1230.2" y="398.0" width="37.6" height="5.8" rx="0.7" fill="#384c68"/>
<rect x="1238.9" y="405.7" width="39.1" height="5.8" rx="0.7" fill="#384c68"/>
<rect x="1238.9" y="413.3" width="39.1" height="5.9" rx="0.7" fill="#384c68"/>
<rect x="1248.0" y="421.4" width="44.9" height="5.3" rx="0.7" fill="#384c68"/>
<rect x="1248.8" y="429.1" width="33.0" height="5.6" rx="0.7" fill="#384c68"/>
<rect x="1255.4" y="436.9" width="39.6" height="5.6" rx="0.7" fill="#384c68"/>
<rect x="1255.4" y="444.6" width="39.6" height="5.6" rx="0.7" fill="#384c68"/>
<rect x="1260.1" y="452.4" width="45.7" height="5.5" rx="0.7" fill="#384c68"/>
<rect x="1266.9" y="460.0" width="28.4" height="5.6" rx="0.7" fill="#384c68"/>
<rect x="1179.8" y="468.1" width="138.4" height="5.5" rx="1" fill="#3b5070"/>
<path d="M1198.5 367.5v5M1200.5 367.5v5M1202.5 367.5v5M1204.5 367.5v5M1206.5 367.5v5M1209.5 367.5v5M1211.5 367.5v5M1213.5 367.5v5M1215.5 367.5v5" stroke="#6a7480" stroke-width="1" opacity="1.0" fill="none"/>
<path d="M1234.5 239.5 L1262.5 239.5 L1262.5 300.5" stroke="#505b68" stroke-width="1.0" fill="none" opacity="1.0"/>
<path d="M1185.5 242.5 L1185.5 255.5 L1202.5 255.5" stroke="#505b68" stroke-width="1.0" fill="none" opacity="1.0"/>
<path d="M1253.5 255.5 L1266.5 255.5 L1266.5 283.5" stroke="#505b68" stroke-width="1.0" fill="none" opacity="1.0"/>
<path d="M1196.5 250.5 L1196.5 263.5 L1213.5 263.5" stroke="#505b68" stroke-width="1.0" fill="none" opacity="1.0"/>
<path d="M1207.5 258.5 L1207.5 278.5 L1222.5 278.5" stroke="#505b68" stroke-width="1.0" fill="none" opacity="1.0"/>
<path d="M1311.5 263.5 L1316.5 263.5 L1316.5 468.5" stroke="#505b68" stroke-width="1.0" fill="none" opacity="1.0"/>
<path d="M1218.5 273.5 L1218.5 286.5 L1234.5 286.5" stroke="#505b68" stroke-width="1.0" fill="none" opacity="1.0"/>
<path d="M1230.5 288.5 L1230.5 293.5 L1244.5 293.5" stroke="#505b68" stroke-width="1.0" fill="none" opacity="1.0"/>
<path d="M1283.5 291.5 L1291.5 291.5 L1291.5 300.5" stroke="#505b68" stroke-width="1.0" fill="none" opacity="1.0"/>
<path d="M1311.5 301.5 L1313.5 301.5 L1313.5 468.5" stroke="#505b68" stroke-width="1.0" fill="none" opacity="1.0"/>
<path d="M1287.5 342.5 L1287.5 468.5" stroke="#7d8793" stroke-width="1.0" fill="none" opacity="1.0"/>
<path d="M1291.5 342.5 L1291.5 468.5" stroke="#7d8793" stroke-width="1.0" fill="none" opacity="1.0"/>
<path d="M1294.5 342.5 L1294.5 468.5" stroke="#7d8793" stroke-width="1.0" fill="none" opacity="1.0"/>
<path d="M1311.5 342.5 L1311.5 468.5" stroke="#7d8793" stroke-width="1.0" fill="none" opacity="1.0"/>
<path d="M1195.5 339.5 L1192.5 339.5 L1192.5 362.5" stroke="#505b68" stroke-width="1.0" fill="none" opacity="1.0"/>
<path d="M1234.5 347.5 L1238.5 347.5 L1238.5 355.5" stroke="#505b68" stroke-width="1.0" fill="none" opacity="1.0"/>
<path d="M1234.5 354.5 L1250.5 354.5 L1251.5 360.5" stroke="#505b68" stroke-width="1.0" fill="none" opacity="1.0"/>
<path d="M1248.5 362.5 L1252.5 362.5 L1252.5 368.5" stroke="#505b68" stroke-width="1.0" fill="none" opacity="1.0"/>
<path d="M1269.5 370.5 L1280.5 370.5 L1281.5 376.5" stroke="#505b68" stroke-width="1.0" fill="none" opacity="1.0"/>
<path d="M1297.5 377.5 L1301.5 377.5 L1301.5 470.5" stroke="#505b68" stroke-width="1.0" fill="none" opacity="1.0"/>
<path d="M1226.5 378.5 L1226.5 400.5" stroke="#505b68" stroke-width="1.0" fill="none" opacity="1.0"/>
<path d="M1267.5 385.5 L1278.5 385.5 L1278.5 393.5 L1268.5 393.5" stroke="#505b68" stroke-width="1.0" fill="none" opacity="1.0"/>
<path d="M1220.5 399.5 L1226.5 399.5 L1228.5 406.5 L1238.5 409.5" stroke="#505b68" stroke-width="1.0" fill="none" opacity="1.0"/>
<path d="M1238.5 416.5 L1228.5 416.5 L1226.5 425.5 L1246.5 425.5" stroke="#505b68" stroke-width="1.0" fill="none" opacity="1.0"/>
<path d="M1281.5 432.5 L1304.5 432.5 L1304.5 456.5" stroke="#505b68" stroke-width="1.0" fill="none" opacity="1.0"/>
<path d="M1244.5 424.5 L1244.5 458.5 L1259.5 458.5" stroke="#505b68" stroke-width="1.0" fill="none" opacity="1.0"/>
<path d="M1247.5 440.5 L1254.5 440.5" stroke="#505b68" stroke-width="1.0" fill="none" opacity="1.0"/>
<path d="M1248.5 462.5 L1266.5 462.5" stroke="#505b68" stroke-width="1.0" fill="none" opacity="1.0"/>
<path d="M1295.5 463.5 L1309.5 463.5 L1309.5 450.5" stroke="#505b68" stroke-width="1.0" fill="none" opacity="1.0"/>
<line x1="1248.5" y1="219.5" x2="1248.5" y2="486" stroke="#d98a45" stroke-width="1.2" opacity="0.7"/>
<line x1="1213.5" y1="219.5" x2="1213.5" y2="486" stroke="#e39a5a" stroke-width="1" opacity="0.55" stroke-dasharray="3 1.5"/>
<line x1="1283.5" y1="219.5" x2="1283.5" y2="486" stroke="#e39a5a" stroke-width="1" opacity="0.5"/>
<rect x="1177.8" y="217.8" width="142.6" height="269.4" fill="none" stroke="#ee8426" stroke-width="3.8"/>
<path d="M1182.5 491.0 L1170.5 503.6 L928.3 503.6 L928.3 546.4 L937.0 546.4" stroke="#5d6571" stroke-width="1.4" fill="none" opacity="1.0"/>
<circle cx="1185.4" cy="487.8" r="2.4" fill="#e9ecef" stroke="#3f4650" stroke-width="1.4"/>
<text x="51.93" y="80.00" font-size="48.5" font-weight="bold" fill="#14233a" stroke="#14233a" stroke-width="0.3" stroke-linejoin="round" textLength="792.59" lengthAdjust="spacingAndGlyphs">Childhood is managed as a high-stakes</text>
<text x="51.92" y="125.60" font-size="48.5" font-weight="bold" fill="#14233a" stroke="#14233a" stroke-width="0.3" stroke-linejoin="round" textLength="349.21" lengthAdjust="spacingAndGlyphs">corporate project</text>
<text x="90.50" y="551.60" font-size="16.6" font-weight="bold" fill="#111820" stroke="#111820" stroke-width="0.2" stroke-linejoin="round" textLength="344.07" lengthAdjust="spacingAndGlyphs">Phase 1: Physiological Optimization (Ages 0–12)</text>
<text x="91.40" y="570.30" font-size="16.4" font-weight="normal" fill="#161b22" stroke="#161b22" stroke-width="0.15" stroke-linejoin="round" textLength="338.77" lengthAdjust="spacingAndGlyphs">Tracking exact percentile growth; medical height</text>
<text x="90.43" y="589.50" font-size="16.4" font-weight="normal" fill="#161b22" stroke="#161b22" stroke-width="0.15" stroke-linejoin="round" textLength="253.91" lengthAdjust="spacingAndGlyphs">interventions to avoid social penalty.</text>
<text x="503.29" y="551.60" font-size="16.6" font-weight="bold" fill="#111820" stroke="#111820" stroke-width="0.2" stroke-linejoin="round" textLength="370.19" lengthAdjust="spacingAndGlyphs">Phase 2: Shadow Education / Hagwons (Ages 4–18)</text>
<text x="504.20" y="570.30" font-size="16.4" font-weight="normal" fill="#161b22" stroke="#161b22" stroke-width="0.15" stroke-linejoin="round" textLength="307.89" lengthAdjust="spacingAndGlyphs">Overlapping schedules of elite cram schools</text>
<text x="504.20" y="589.50" font-size="16.4" font-weight="normal" fill="#161b22" stroke="#161b22" stroke-width="0.15" stroke-linejoin="round" textLength="254.13" lengthAdjust="spacingAndGlyphs">dominating evenings and weekends.</text>
<text x="940.80" y="551.80" font-size="16.6" font-weight="bold" fill="#111820" stroke="#111820" stroke-width="0.2" stroke-linejoin="round" textLength="361.97" lengthAdjust="spacingAndGlyphs">Phase 3: The Examination Bottleneck (Ages 15–18)</text>
<text x="941.70" y="570.70" font-size="16.4" font-weight="normal" fill="#161b22" stroke="#161b22" stroke-width="0.15" stroke-linejoin="round" textLength="294.93" lengthAdjust="spacingAndGlyphs">The singular focus on the Suneung (CSAT)</text>
<text x="940.74" y="590.00" font-size="16.4" font-weight="normal" fill="#161b22" stroke="#161b22" stroke-width="0.15" stroke-linejoin="round" textLength="179.39" lengthAdjust="spacingAndGlyphs">university entrance exam.</text>
<text x="80.00" y="670.60" font-size="30.2" font-weight="bold" fill="#0f1a2a" stroke="#0f1a2a" stroke-width="0.4" stroke-linejoin="round" textLength="1136.40" lengthAdjust="spacingAndGlyphs">Takeaway: There is no unstructured time. Every phase of development is a tracked metric</text>
<text x="79.11" y="701.40" font-size="30.2" font-weight="bold" fill="#0f1a2a" stroke="#0f1a2a" stroke-width="0.4" stroke-linejoin="round" textLength="842.02" lengthAdjust="spacingAndGlyphs">requiring intensive capital and managerial oversight from parents.</text>
<text x="1288.10" y="757.60" font-size="13.6" font-weight="normal" fill="#111111" stroke="#111111" stroke-width="0.25" stroke-linejoin="round" textLength="77.23" lengthAdjust="spacingAndGlyphs">NotebookLM</text>
<text x="53.80" y="167.9" font-size="14" fill="#1d2128" text-anchor="middle" textLength="34.6" lengthAdjust="spacingAndGlyphs">Age 0</text>
<text x="124.04" y="167.9" font-size="14" fill="#1d2128" text-anchor="middle" textLength="34.6" lengthAdjust="spacingAndGlyphs">Age 1</text>
<text x="194.29" y="167.9" font-size="14" fill="#1d2128" text-anchor="middle" textLength="34.6" lengthAdjust="spacingAndGlyphs">Age 2</text>
<text x="264.53" y="167.9" font-size="14" fill="#1d2128" text-anchor="middle" textLength="34.6" lengthAdjust="spacingAndGlyphs">Age 3</text>
<text x="334.78" y="167.9" font-size="14" fill="#1d2128" text-anchor="middle" textLength="34.6" lengthAdjust="spacingAndGlyphs">Age 4</text>
<text x="405.02" y="167.9" font-size="14" fill="#1d2128" text-anchor="middle" textLength="34.6" lengthAdjust="spacingAndGlyphs">Age 5</text>
<text x="475.27" y="167.9" font-size="14" fill="#1d2128" text-anchor="middle" textLength="34.6" lengthAdjust="spacingAndGlyphs">Age 6</text>
<text x="545.51" y="167.9" font-size="14" fill="#1d2128" text-anchor="middle" textLength="34.6" lengthAdjust="spacingAndGlyphs">Age 7</text>
<text x="615.76" y="167.9" font-size="14" fill="#1d2128" text-anchor="middle" textLength="34.6" lengthAdjust="spacingAndGlyphs">Age 8</text>
<text x="686.00" y="167.9" font-size="14" fill="#1d2128" text-anchor="middle" textLength="34.6" lengthAdjust="spacingAndGlyphs">Age 9</text>
<text x="756.24" y="167.9" font-size="14" fill="#1d2128" text-anchor="middle" textLength="40.6" lengthAdjust="spacingAndGlyphs">Age 10</text>
<text x="826.49" y="167.9" font-size="14" fill="#1d2128" text-anchor="middle" textLength="40.6" lengthAdjust="spacingAndGlyphs">Age 11</text>
<text x="896.73" y="167.9" font-size="14" fill="#1d2128" text-anchor="middle" textLength="40.6" lengthAdjust="spacingAndGlyphs">Age 12</text>
<text x="966.98" y="167.9" font-size="14" fill="#1d2128" text-anchor="middle" textLength="40.6" lengthAdjust="spacingAndGlyphs">Age 13</text>
<text x="1037.22" y="167.9" font-size="14" fill="#1d2128" text-anchor="middle" textLength="40.6" lengthAdjust="spacingAndGlyphs">Age 14</text>
<text x="1107.47" y="167.9" font-size="14" fill="#1d2128" text-anchor="middle" textLength="40.6" lengthAdjust="spacingAndGlyphs">Age 15</text>
<text x="1177.71" y="167.9" font-size="14" fill="#1d2128" text-anchor="middle" textLength="40.6" lengthAdjust="spacingAndGlyphs">Age 16</text>
<text x="1247.96" y="167.9" font-size="14" fill="#1d2128" text-anchor="middle" textLength="40.6" lengthAdjust="spacingAndGlyphs">Age 17</text>
<text x="1318.20" y="167.9" font-size="14" fill="#1d2128" text-anchor="middle" textLength="40.6" lengthAdjust="spacingAndGlyphs">Age 18</text>
</svg>
<svg width="1376" height="768" style="position:absolute;left:0;top:0" viewBox="0 0 1376 768"><g fill="none" stroke="#111" stroke-width="1.55"><path d="M1270.9 757.7 V754.6 A6.2 6.1 0 0 1 1283.3 754.6 V757.7"/><path d="M1271.1 757.7 V756.8 A4.7 5 0 0 1 1280.5 756.8 V757.7"/><path d="M1271.1 757.7 A3.2 3.3 0 0 1 1277.5 757.7"/></g></svg>
</body></html>
